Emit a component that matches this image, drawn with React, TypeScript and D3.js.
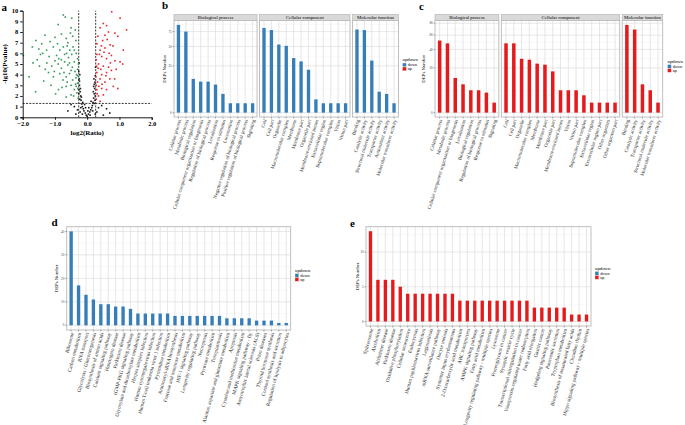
import { useEffect, useRef } from 'react';
import * as d3 from 'd3';

const FONT = '"Liberation Serif", "Times New Roman", serif';
const BLUE = '#377eb8';
const RED = '#e41a1c';

// ---- panel a: volcano points [log2(Ratio), -lg10(Pvalue)] ----
const volcanoDown: [number, number][] = [
  [-0.74, 9.6], [-0.68, 9.4], [-0.48, 9.3], [-0.9, 8.7], [-0.5, 8.4], [-1.31, 7.7], [-1.59, 7.2],
  [-1.41, 6.9], [-1.15, 7.1], [-1.0, 7.5], [-0.8, 7.8], [-0.65, 7.4], [-0.45, 7.6], [-0.35, 7.2],
  [-1.98, 5.8], [-1.55, 5.4], [-1.38, 6.0], [-1.26, 6.3], [-1.18, 5.7], [-1.05, 6.6], [-0.95, 5.8],
  [-0.85, 6.3], [-0.74, 6.6], [-0.64, 6.0], [-0.54, 6.3], [-0.44, 6.6], [-0.34, 6.0], [-1.25, 5.1],
  [-1.1, 4.8], [-1.0, 5.3], [-0.9, 5.0], [-0.8, 4.6], [-0.7, 5.2], [-0.6, 4.9], [-0.5, 4.4],
  [-0.4, 5.2], [-0.3, 5.5], [-1.05, 3.8], [-0.85, 4.1], [-0.75, 3.5], [-0.65, 3.8], [-0.55, 4.1],
  [-0.45, 3.5], [-0.35, 3.7], [-0.65, 2.9], [-0.5, 3.0], [-0.4, 2.6], [-0.3, 3.2], [-0.89, 2.6],
  [-0.5, 2.1], [-0.65, 1.9], [-0.32, 2.3], [-1.48, 4.8], [-1.68, 5.1], [-1.2, 4.2], [-1.35, 3.4],
  [-1.6, 2.4], [-0.98, 2.2], [-0.3, 4.5], [-0.28, 1.8], [-1.7, 6.6], [-1.45, 5.9], [-0.92, 6.9],
  [-0.6, 7.0], [-0.37, 8.2], [-0.58, 5.6], [-0.46, 4.7], [-0.72, 4.2], [-0.36, 3.1], [-0.42, 2.0],
  [-1.12, 3.0], [-0.78, 2.8], [-1.8, 3.8], [-0.55, 5.1], [-0.33, 4.0], [-0.62, 3.3], [-1.3, 4.5],
  [-0.88, 5.5], [-0.4, 6.3], [-0.52, 7.9], [-0.29, 2.7], [-1.5, 6.4], [-0.7, 5.9], [-0.38, 4.3],
  [-0.3, 3.9], [-0.34, 2.9], [-0.48, 5.9], [-0.62, 6.7], [-0.8, 5.4], [-1.02, 4.3], [-0.27, 5.0]
];
const volcanoUp: [number, number][] = [
  [0.76, 9.9], [1.02, 9.3], [0.5, 8.8], [0.6, 8.6], [0.86, 7.9], [1.22, 8.2], [0.95, 7.6],
  [0.66, 8.0], [0.4, 8.4], [0.71, 6.8], [0.4, 6.3], [0.55, 6.5], [0.8, 6.7], [1.12, 6.3],
  [0.3, 6.9], [0.48, 7.2], [0.62, 7.3], [0.45, 5.7], [0.6, 5.5], [0.75, 5.8], [0.86, 5.3],
  [1.02, 5.2], [0.35, 5.0], [0.5, 4.8], [0.66, 4.7], [0.9, 4.5], [0.28, 5.4], [0.3, 4.2],
  [0.45, 4.0], [0.6, 4.2], [0.75, 4.4], [0.4, 3.6], [0.55, 3.3], [0.7, 3.6], [0.32, 3.3],
  [0.3, 2.6], [0.45, 2.7], [0.6, 2.6], [0.81, 2.9], [0.95, 2.7], [0.35, 2.0], [0.28, 1.7],
  [0.5, 2.1], [0.4, 1.5], [0.38, 5.9], [0.52, 6.1], [0.68, 6.0], [0.33, 7.6], [0.27, 3.8],
  [0.58, 3.9], [0.85, 3.6], [0.42, 4.5], [1.1, 5.0], [0.72, 5.1], [0.36, 2.9], [0.29, 4.8],
  [0.46, 3.1], [0.31, 2.2], [0.55, 7.7], [0.34, 4.6], [0.28, 3.0], [0.3, 5.9], [0.44, 6.7]
];
const volcanoNs: [number, number][] = [
  [0.0, 0.1], [-0.03, 0.2], [0.04, 0.3], [-0.06, 0.4], [0.08, 0.5], [-0.1, 0.6], [0.11, 0.7],
  [-0.12, 0.8], [0.14, 0.9], [-0.15, 1.0], [0.16, 1.1], [-0.17, 1.25], [0.18, 1.4], [-0.19, 1.6],
  [0.2, 1.8], [-0.2, 2.0], [0.22, 2.2], [-0.22, 2.4], [0.23, 2.7], [-0.24, 3.0], [0.24, 3.3],
  [-0.25, 3.6], [0.25, 3.9], [-0.26, 4.3], [0.26, 4.7], [-0.25, 5.1], [-0.18, 1.9], [0.19, 2.4],
  [0.05, 0.9], [-0.08, 1.2], [0.12, 1.5], [-0.14, 1.4], [0.22, 1.3], [-0.23, 1.7], [-0.4, 1.0],
  [-0.3, 0.7], [-0.5, 1.2], [0.35, 0.9], [0.45, 1.1], [0.3, 0.5], [-0.35, 0.3], [0.6, 0.8],
  [0.7, 0.4], [-0.6, 0.6], [0.5, 0.2], [0.25, 0.3], [-0.22, 0.5], [0.02, 0.6], [-0.05, 0.9],
  [0.09, 0.2], [-0.15, 0.3], [0.17, 0.6], [-0.2, 0.9], [-0.24, 3.4], [0.22, 3.1], [-0.21, 2.7],
  [0.2, 2.9], [-0.26, 2.2], [0.25, 2.0], [-0.25, 2.6], [0.24, 1.6], [-0.23, 4.0], [0.21, 3.6]
];

// ---- panel b: down-regulated GO ----
const bBioNames = ['Cellular process', 'Metabolic process', 'Biological regulation',
  'Cellular component organization or biogenesis', 'Regulation of biological process', 'Localization',
  'Response to stimulus', 'Locomotion', 'Negative regulation of biological process',
  'Positive regulation of biological process', 'Signaling'];
const bBioValues = [88, 75, 13, 11, 11, 9, 4, 1, 1, 1, 1];
const bCellNames = ['Cell', 'Cell part', 'Organelle', 'Macromolecular complex', 'Membrane', 'Membrane part',
  'Organelle part', 'Membrane-enclosed lumen', 'Extracellular region', 'Supramolecular complex', 'Virion', 'Virion part'];
const bCellValues = [82, 78, 53, 51, 34, 30, 21, 2, 1, 1, 1, 1];
const bMolNames = ['Binding', 'Catalytic activity', 'Structural molecule activity', 'Transporter activity',
  'Antioxidant activity', 'Molecular transducer activity'];
const bMolValues = [79, 78, 31, 5, 4, 1];
const bTicks = [0, 25, 50, 75];

// ---- panel c: up-regulated GO ----
const cBioNames = ['Cellular process', 'Metabolic process', 'Cellular component organization or biogenesis',
  'Localization', 'Biological regulation', 'Regulation of biological process', 'Response to stimulus', 'Signaling'];
const cBioValues = [52, 48, 12, 8, 5, 5, 4, 1];
const cCellNames = ['Cell', 'Cell part', 'Organelle', 'Macromolecular complex', 'Membrane', 'Membrane part',
  'Organelle part', 'Membrane-enclosed lumen', 'Virion', 'Virion part', 'Supramolecular complex',
  'Extracellular region', 'Extracellular region part', 'Other organism', 'Other organism part'];
const cCellValues = [48, 48, 29, 28, 24, 23, 17, 5, 5, 5, 3, 1, 1, 1, 1];
const cMolNames = ['Binding', 'Catalytic activity', 'Transporter activity', 'Structural molecule activity',
  'Molecular transducer activity'];
const cMolValues = [77, 69, 8, 5, 1];
const cTicks = [0, 20, 40, 60, 80];

// ---- panel d: down-regulated KEGG ----
const dNames = ['Ribosome', 'Carbon metabolism', 'RNA transport', 'Glycolysis / Gluconeogenesis',
  'Biosynthesis of amino acids', 'Calcium signaling pathway', 'Huntington disease', 'Parkinson disease',
  'cGMP-PKG signaling pathway', 'Glyoxylate and dicarboxylate metabolism', 'Herpes simplex infection',
  'Human cytomegalovirus infection', 'Human T-cell leukemia virus 1 infection', 'Pyrimidine metabolism',
  'Aminoacyl-tRNA biosynthesis', 'Fructose and mannose metabolism', 'HIF-1 signaling pathway',
  'Longevity regulating pathway', 'Necroptosis', 'Pyruvate metabolism', 'Toxoplasmosis',
  'Alanine, aspartate and glutamate metabolism', 'Apoptosis', 'Cysteine and methionine metabolism',
  'MAPK signaling pathway - fly', 'Amyotrophic lateral sclerosis (ALS)', 'Prion diseases',
  'Thyroid hormone synthesis', 'Cortisol synthesis and secretion', 'Regulation of lipolysis in adipocytes'];
const dValues = [40, 17, 13, 11, 9, 9, 8, 8, 7, 5, 5, 5, 5, 5, 4, 4, 4, 4, 4, 4, 4, 3, 3, 3, 3, 2, 2, 2, 1, 1];
const dTicks = [0, 10, 20, 30, 40];

// ---- panel e: up-regulated KEGG ----
const eNames = ['Spliceosome', 'Alcoholism', 'Alzheimer disease', 'Parkinson disease', 'Oxidative phosphorylation',
  'Cellular senescence', 'Endocytosis', 'Human papillomavirus infection', 'Legionellosis',
  'mRNA surveillance pathway', 'Oocyte meiosis', 'Systemic lupus erythematosus',
  '2-Oxocarboxylic acid metabolism', 'ABC transporters', 'AMPK signaling pathway', 'Fatty acid metabolism',
  'Longevity regulating pathway - multiple species', 'Lysosome', 'Proteoglycans in cancer',
  'Synaptic vesicle cycle', 'Transcriptional misregulation in cancer', 'Vasopressin-regulated water reabsorption',
  'Fatty acid elongation', 'Gastric cancer', 'Hedgehog signaling pathway', 'Pancreatic secretion',
  'Tryptophan metabolism', 'Biosynthesis of unsaturated fatty acids', 'Circadian rhythm',
  'Hippo signaling pathway - multiple species'];
const eValues = [13, 6, 6, 6, 5, 4, 4, 4, 4, 4, 4, 4, 3, 3, 3, 3, 3, 3, 3, 3, 3, 3, 2, 2, 2, 2, 2, 1, 1, 1];
const eTicks = [0, 5, 10];

type Facet = { title: string; names: string[]; values: number[] };

const drawLegend = (g: any, x: number, y: number) => {
  const lg = g.append('g').attr('transform', `translate(${x},${y})`).style('font-family', FONT);
  lg.append('text').attr('x', 0).attr('y', 0).style('font-size', '4.8px').text('updown');
  [['down', BLUE], ['up', RED]].forEach(([lab, col], i) => {
    lg.append('rect').attr('x', 0).attr('y', 2 + i * 4).attr('width', 3.8).attr('height', 3.8)
      .attr('fill', col).attr('stroke', '#fff').attr('stroke-width', 0.3);
    lg.append('text').attr('x', 5.2).attr('y', 5.2 + i * 4).style('font-size', '4.2px').text(lab);
  });
};

const drawBars = (g: any, cfg: any) => {
  const { x0, x1, top, bottom, facets, color, sqrt, max, ticks, strip, angle, ytitleX, labelSize } = cfg;
  const tf = sqrt ? Math.sqrt : (v: number) => v;
  const t0 = tf(0);
  const t1 = tf(max);
  const pad = (t1 - t0) * 0.05;
  const y = d3.scaleLinear().domain([t0 - pad, t1 + pad]).range([bottom, top]);
  const gap = 2.5;
  const totalUnits = d3.sum(facets as Facet[], f => f.names.length + 0.2);
  const unit = (x1 - x0 - gap * (facets.length - 1)) / totalUnits;

  // minor breaks halfway between majors (transformed space)
  const tt = ticks.map(tf);
  const minor: number[] = [];
  for (let i = 0; i < tt.length - 1; i++) minor.push((tt[i] + tt[i + 1]) / 2);
  const extra = tt[tt.length - 1] + (tt[tt.length - 1] - tt[tt.length - 2]) / 2;
  if (extra < t1 + pad) minor.push(extra);

  let fx = x0;
  (facets as Facet[]).forEach((f, fi) => {
    const w = (f.names.length + 0.2) * unit;
    const xs = d3.scalePoint().domain(f.names).range([fx, fx + w]).padding(0.6);
    const bw = xs.step() * 0.45;
    const p = g.append('g');

    p.append('rect').attr('x', fx).attr('y', top).attr('width', w).attr('height', bottom - top).attr('fill', '#fff');
    minor.forEach(m => {
      p.append('line').attr('x1', fx).attr('x2', fx + w).attr('y1', y(m)).attr('y2', y(m))
        .attr('stroke', '#f0f0f0').attr('stroke-width', 0.5);
    });
    tt.forEach(m => {
      p.append('line').attr('x1', fx).attr('x2', fx + w).attr('y1', y(m)).attr('y2', y(m))
        .attr('stroke', '#dcdcdc').attr('stroke-width', 0.7);
    });
    f.names.forEach(n => {
      p.append('line').attr('x1', xs(n)).attr('x2', xs(n)).attr('y1', top).attr('y2', bottom)
        .attr('stroke', '#dcdcdc').attr('stroke-width', 0.7);
    });

    p.selectAll('rect.bar').data(f.values).enter().append('rect').attr('class', 'bar')
      .attr('x', (d: number, i: number) => (xs(f.names[i]) as number) - bw / 2)
      .attr('y', (d: number) => y(tf(d)))
      .attr('width', bw)
      .attr('height', (d: number) => y(t0) - y(tf(d)))
      .attr('fill', color);

    p.append('rect').attr('x', fx).attr('y', top).attr('width', w).attr('height', bottom - top)
      .attr('fill', 'none').attr('stroke', '#b8b8b8').attr('stroke-width', 0.9);

    if (strip) {
      p.append('rect').attr('x', fx).attr('y', top - 6).attr('width', w).attr('height', 6)
        .attr('fill', '#d9d9d9').attr('stroke', '#b8b8b8').attr('stroke-width', 0.7);
      p.append('text').attr('x', fx + w / 2).attr('y', top - 1.6).attr('text-anchor', 'middle')
        .style('font-family', FONT).style('font-size', '4.8px').text(f.title);
    }

    // x ticks and rotated labels
    f.names.forEach(n => {
      const cx = xs(n) as number;
      p.append('line').attr('x1', cx).attr('x2', cx).attr('y1', bottom).attr('y2', bottom + 1.5)
        .attr('stroke', '#555').attr('stroke-width', 0.5);
      p.append('text').attr('transform', `translate(${cx + 1},${bottom + 2.5}) rotate(${angle})`)
        .attr('text-anchor', 'end').attr('dy', '0.35em')
        .style('font-family', FONT).style('font-size', `${labelSize}px`).style('fill', '#222').text(n);
    });

    if (fi === 0) {
      ticks.forEach((t: number) => {
        const ty = y(tf(t));
        p.append('line').attr('x1', fx - 1.5).attr('x2', fx).attr('y1', ty).attr('y2', ty)
          .attr('stroke', '#555').attr('stroke-width', 0.5);
        p.append('text').attr('x', fx - 2.3).attr('y', ty).attr('dy', '0.35em').attr('text-anchor', 'end')
          .style('font-family', FONT).style('font-size', '3.3px').style('fill', '#444').text(t);
      });
      p.append('text').attr('transform', `translate(${ytitleX},${(top + bottom) / 2}) rotate(-90)`)
        .attr('text-anchor', 'middle').style('font-family', FONT).style('font-size', '4.8px').text('DEPs Number');
    }
    fx += w + gap;
  });
};

const drawVolcano = (g: any) => {
  const x = d3.scaleLinear().domain([-2, 2]).range([22.7, 151.7]);
  const y = d3.scaleLinear().domain([0, 10]).range([117.3, 10.7]);
  const sz = 1.6;

  const lines = g.append('g').attr('stroke', '#222').attr('stroke-width', 0.9).attr('stroke-dasharray', '2,1.3');
  [-0.263, 0.263].forEach(v => {
    lines.append('line').attr('x1', x(v)).attr('x2', x(v)).attr('y1', y(0)).attr('y2', y(10));
  });
  lines.append('line').attr('x1', x(-2)).attr('x2', x(2)).attr('y1', y(1.301)).attr('y2', y(1.301));

  const groups: [[number, number][], string][] = [[volcanoNs, '#1a1a1a'], [volcanoDown, '#2f9a55'], [volcanoUp, '#e3262b']];
  groups.forEach(([pts, col]) => {
    g.append('g').selectAll('rect').data(pts).enter().append('rect')
      .attr('x', (d: [number, number]) => x(d[0]) - sz / 2)
      .attr('y', (d: [number, number]) => y(d[1]) - sz / 2)
      .attr('width', sz).attr('height', sz).attr('fill', col);
  });

  const ax = g.append('g').attr('transform', `translate(0,${y(0)})`)
    .call(d3.axisBottom(x).tickValues([-2, -1, 0, 1, 2]).tickSize(2.5).tickPadding(1.5));
  const ay = g.append('g').attr('transform', `translate(${x(-2)},0)`)
    .call(d3.axisLeft(y).tickValues(d3.range(0, 11)).tickSize(2.5).tickPadding(2));
  [ax, ay].forEach(a => {
    a.selectAll('path,line').attr('stroke', '#000').attr('stroke-width', 0.9);
    a.selectAll('text').style('font-family', FONT).style('font-size', '6.5px').style('font-weight', 'bold').attr('fill', '#000');
  });
  ay.selectAll('text').attr('dy', '0.3em');

  g.append('text').attr('x', (x(-2) + x(2)) / 2).attr('y', 135).attr('text-anchor', 'middle')
    .style('font-family', FONT).style('font-size', '7px').style('font-weight', 'bold').text('log2(Ratio)');
  g.append('text').attr('transform', `translate(7,${(y(0) + y(10)) / 2}) rotate(-90)`).attr('text-anchor', 'middle')
    .style('font-family', FONT).style('font-size', '7px').style('font-weight', 'bold').text('-lg10(Pvalue)');
};

const App = () => {
  const ref = useRef<SVGSVGElement>(null);

  useEffect(() => {
    document.body.style.margin = '0';
    const svg = d3.select(ref.current);
    svg.selectAll('*').remove();
    const root = svg.append('g');

    drawVolcano(root.append('g'));

    drawBars(root.append('g'), {
      x0: 174, x1: 398.5, top: 20.5, bottom: 117, color: BLUE, sqrt: true, max: 88, ticks: bTicks,
      strip: true, angle: -73, ytitleX: 166, labelSize: 5,
      facets: [
        { title: 'Biological process', names: bBioNames, values: bBioValues },
        { title: 'Cellular component', names: bCellNames, values: bCellValues },
        { title: 'Molecular function', names: bMolNames, values: bMolValues }
      ]
    });
    drawLegend(root, 402.5, 61);

    drawBars(root.append('g'), {
      x0: 435, x1: 662.7, top: 20.5, bottom: 117, color: RED, sqrt: true, max: 77, ticks: cTicks,
      strip: true, angle: -73, ytitleX: 425, labelSize: 5,
      facets: [
        { title: 'Biological process', names: cBioNames, values: cBioValues },
        { title: 'Cellular component', names: cCellNames, values: cCellValues },
        { title: 'Molecular function', names: cMolNames, values: cMolValues }
      ]
    });
    drawLegend(root, 667.5, 62.5);

    drawBars(root.append('g'), {
      x0: 66.7, x1: 290.7, top: 226.7, bottom: 330, color: BLUE, sqrt: false, max: 40, ticks: dTicks,
      strip: false, angle: -75, ytitleX: 58, labelSize: 5.2,
      facets: [{ title: '', names: dNames, values: dValues }]
    });
    drawLegend(root, 295, 271.5);

    drawBars(root.append('g'), {
      x0: 366, x1: 591, top: 226.7, bottom: 326, color: RED, sqrt: false, max: 13, ticks: eTicks,
      strip: false, angle: -75, ytitleX: 358.5, labelSize: 5.2,
      facets: [{ title: '', names: eNames, values: eValues }]
    });
    drawLegend(root, 595, 269.5);

    // panel tags
    [['a', 1.5, 10.5], ['b', 162, 9], ['c', 419, 9.5], ['d', 51.5, 225.5], ['e', 350, 226.5]].forEach(([t, tx, ty]) => {
      root.append('text').attr('x', tx).attr('y', ty).style('font-family', FONT)
        .style('font-size', '11px').style('font-weight', 'bold').text(t as string);
    });
  }, []);

  return <svg ref={ref} width={685} height={425} style={{ display: 'block', background: '#fff' }} />;
};

export default App;
